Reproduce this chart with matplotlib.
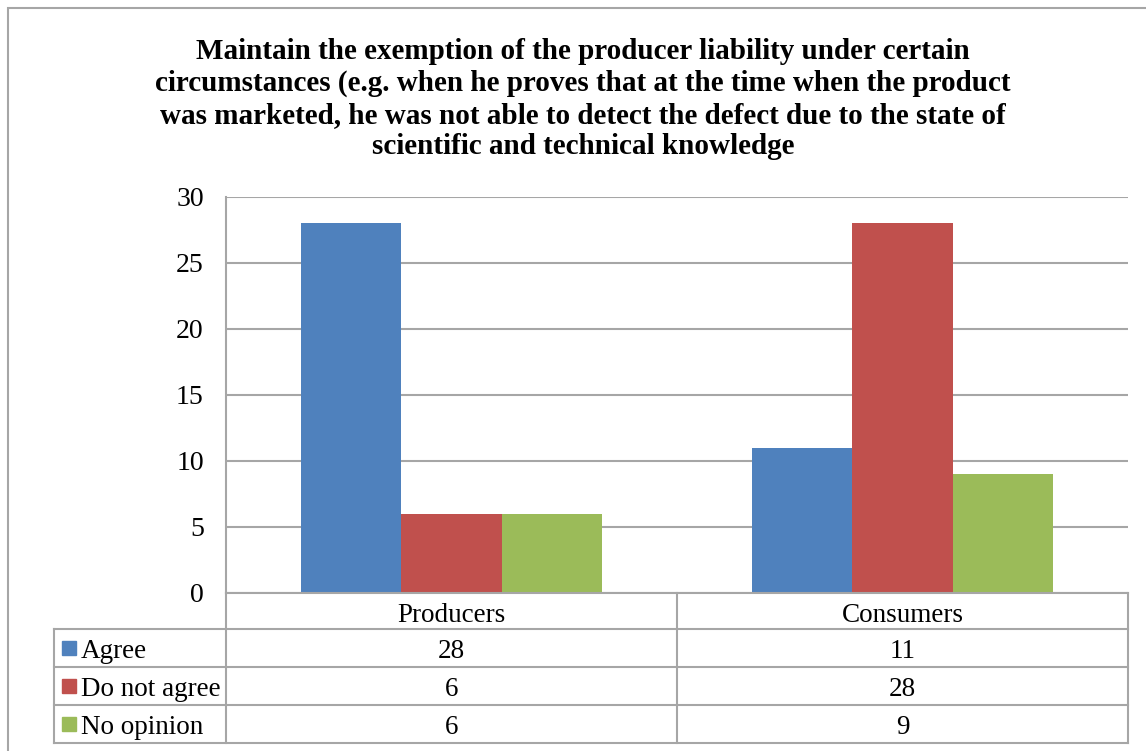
import matplotlib.pyplot as plt
from matplotlib.lines import Line2D
from matplotlib.patches import Rectangle
import numpy as np

categories = ["Producers", "Consumers"]
series = ["Agree", "Do not agree", "No opinion"]
agree = [28, 11]
do_not_agree = [6, 28]
no_opinion = [6, 9]
values = [agree, do_not_agree, no_opinion]
colors = ["#4F81BD", "#C0504D", "#9BBB59"]

title = ("Maintain the exemption of the producer liability under certain\n"
         "circumstances (e.g. when he proves that at the time when the product\n"
         "was marketed, he was not able to detect the defect due to the state of\n"
         "scientific and technical knowledge")

W, H = 1146, 751
plt.rcParams["font.family"] = ["Liberation Serif", "DejaVu Serif"]

fig = plt.figure(figsize=(W / 100, H / 100), dpi=100)


def fx(px):
    return px / W


def fy(py):
    return 1 - py / H


grid_col = "#A6A6A6"
fs = 19.5

# outer frame (runs off the right and bottom edges)
fig.add_artist(Rectangle((fx(8), fy(760)), fx(1150) - fx(8), fy(8) - fy(760),
                         transform=fig.transFigure, fill=False,
                         edgecolor=grid_col, lw=1.5))

ax_l, ax_r, ax_t, ax_b = 226, 1128, 197, 593
ax = fig.add_axes([fx(ax_l), fy(ax_b), fx(ax_r) - fx(ax_l), fy(ax_t) - fy(ax_b)])

x = np.arange(len(categories))
bw = 0.222
for i, (vals, col) in enumerate(zip(values, colors)):
    ax.bar(x + (i - 1) * bw, vals, width=bw, color=col, zorder=3)

ax.set_xlim(-0.5, len(categories) - 0.5)
ax.set_ylim(0, 30)
ax.set_yticks(range(0, 31, 5))
ax.yaxis.grid(True, color=grid_col, lw=1.5, zorder=0)
ax.set_xticks([])
ax.tick_params(axis="y", length=0, pad=16, labelsize=20)
for s in ["top", "right", "bottom"]:
    ax.spines[s].set_visible(False)
ax.spines["left"].set_color(grid_col)
ax.spines["left"].set_linewidth(1.5)

fig.text(fx(583), fy(99), title, ha="center", va="center", fontsize=21,
         fontweight="bold", linespacing=1.23)

# data table under the axis
col_x = [ax_l, 677, ax_r]
row_y = [ax_b, 629, 667, 705, 743]
lab_l = 54


def hline(y, x0, x1):
    fig.add_artist(Line2D([fx(x0), fx(x1)], [fy(y), fy(y)], color=grid_col, lw=1.5))


def vline(xp, y0, y1):
    fig.add_artist(Line2D([fx(xp), fx(xp)], [fy(y0), fy(y1)], color=grid_col, lw=1.5))


hline(row_y[0], ax_l, ax_r)
for y in row_y[1:]:
    hline(y, lab_l, ax_r)
vline(lab_l, row_y[1], row_y[-1])
for xp in col_x:
    vline(xp, row_y[0], row_y[-1])

for j, cat in enumerate(categories):
    cx = (col_x[j] + col_x[j + 1]) / 2
    fig.text(fx(cx), fy((row_y[0] + row_y[1]) / 2 + 1), cat, ha="center",
             va="center_baseline", fontsize=fs)

for i, (name, vals, col) in enumerate(zip(series, values, colors)):
    cy = (row_y[i + 1] + row_y[i + 2]) / 2
    fig.add_artist(Rectangle((fx(62), fy(cy + 7)), fx(14), fy(cy - 7) - fy(cy + 7),
                             transform=fig.transFigure, color=col))
    fig.text(fx(81), fy(cy + 1), name, ha="left", va="center_baseline", fontsize=fs)
    for j, v in enumerate(vals):
        cx = (col_x[j] + col_x[j + 1]) / 2
        fig.text(fx(cx), fy(cy + 1), str(v), ha="center", va="center_baseline", fontsize=fs)

fig.savefig("out.png", dpi=100)
